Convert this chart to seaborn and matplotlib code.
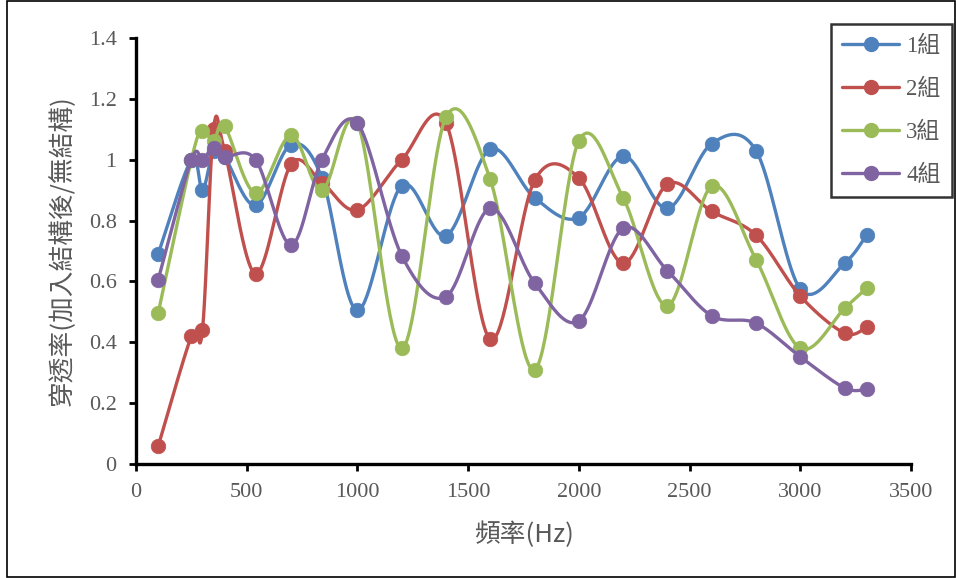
import numpy as np
import pandas as pd
import matplotlib
matplotlib.use("Agg")
import matplotlib.pyplot as plt
import seaborn as sns
from matplotlib.patches import Rectangle
from matplotlib.lines import Line2D
from matplotlib.ticker import FuncFormatter

# ---- data ----
freq = [100, 250, 300, 350, 400, 540, 700, 840, 1000, 1200, 1400, 1600, 1800,
        2000, 2200, 2400, 2600, 2800, 3000, 3200, 3300]
g1 = [0.69, 1.00, 0.90, 1.03, 1.01, 0.85, 1.05, 0.94, 0.505, 0.915, 0.75, 1.035,
      0.875, 0.81, 1.012, 0.84, 1.053, 1.03, 0.575, 0.66, 0.753]
g2 = [0.058, 0.42, 0.44, 1.10, 1.03, 0.625, 0.985, 0.925, 0.835, 1.00, 1.12, 0.41,
      0.932, 0.94, 0.66, 0.92, 0.83, 0.752, 0.552, 0.43, 0.45]
g3 = [0.495, 1.00, 1.095, 1.06, 1.11, 0.89, 1.08, 0.90, 1.12, 0.38, 1.14, 0.935,
      0.31, 1.062, 0.875, 0.52, 0.913, 0.672, 0.38, 0.512, 0.578]
g4 = [0.605, 1.00, 1.00, 1.04, 1.01, 1.00, 0.72, 1.00, 1.12, 0.685, 0.55, 0.84,
      0.595, 0.47, 0.775, 0.635, 0.487, 0.463, 0.352, 0.25, 0.246]
series_names = ["1組", "2組", "3組", "4組"]
series_vals = [g1, g2, g3, g4]
colors = ["#4F81BD", "#C0504D", "#9BBB59", "#8064A2"]
xticks = [0, 500, 1000, 1500, 2000, 2500, 3000, 3500]
yticks = [0, 0.2, 0.4, 0.6, 0.8, 1.0, 1.2, 1.4]
xlabel = "頻率(Hz)"
ylabel = "穿透率(加入結構後/無結構)"

sns.set_style("ticks")
plt.rcParams["font.family"] = ["Liberation Serif", "Noto Sans CJK TC", "DejaVu Sans"]

W, H = 956, 578
fig = plt.figure(figsize=(W / 100, H / 100), dpi=100)
ax = fig.add_axes([136 / W, 1 - 464 / H, 775 / W, 426 / H])
XMAX, YMAX = 3500, 1.4
ax.set_xlim(0, XMAX)
ax.set_ylim(0, YMAX)

# Excel-like smoothed curve (Catmull-Rom Bezier in screen space)
sx, sy = 775 / XMAX, 426 / YMAX


def smooth(xs, ys, n=40):
    P = np.column_stack([np.asarray(xs) * sx, np.asarray(ys) * sy])
    Pe = np.vstack([P[0], P, P[-1]])
    out = []
    t = np.linspace(0, 1, n)[:, None]
    for i in range(len(P) - 1):
        p0, p1, p2, p3 = Pe[i], Pe[i + 1], Pe[i + 2], Pe[i + 3]
        c1 = p1 + (p2 - p0) / 6
        c2 = p2 - (p3 - p1) / 6
        seg = ((1 - t) ** 3) * p1 + 3 * ((1 - t) ** 2) * t * c1 + 3 * (1 - t) * t ** 2 * c2 + t ** 3 * p2
        out.append(seg if i == 0 else seg[1:])
    c = np.vstack(out)
    return c[:, 0] / sx, c[:, 1] / sy


handles = []
for k, (name, vals, col) in enumerate(zip(series_names, series_vals, colors)):
    cx, cy = smooth(freq, vals)
    ax.plot(cx, cy, color=col, lw=2.4, solid_capstyle="round", zorder=2 + k, clip_on=False)
    df = pd.DataFrame({"x": freq, "y": vals})
    sns.scatterplot(data=df, x="x", y="y", ax=ax, color=col, s=110, edgecolor=col,
                    linewidth=0.5, zorder=2.5 + k, clip_on=False, legend=False)
    handles.append(Line2D([0], [0], color=col, lw=2.4, marker="o", markersize=10,
                          markeredgecolor=col))

for s in ["top", "right"]:
    ax.spines[s].set_visible(False)
for s in ["left", "bottom"]:
    ax.spines[s].set_color("black")
    ax.spines[s].set_linewidth(2.4)
ax.set_xticks(xticks)
ax.set_yticks(yticks)
ax.yaxis.set_major_formatter(FuncFormatter(lambda v, p: f"{v:g}"))
ax.tick_params(axis="both", direction="out", length=5, width=2, color="black",
               labelsize=16, labelcolor="#595959")
ax.tick_params(axis="x", pad=9)
ax.tick_params(axis="y", pad=9)
ax.set_xlabel(xlabel, fontsize=18.5, color="#595959", labelpad=14,
              family=["Noto Sans CJK TC", "DejaVu Sans"])
ax.set_ylabel(ylabel, fontsize=18.5, color="#595959", labelpad=9,
              family=["Noto Sans CJK TC", "DejaVu Sans"])
ax.set_facecolor("white")

leg = fig.legend(handles, series_names, loc="upper right",
                 bbox_to_anchor=(952 / W, 1 - 24 / H), frameon=True, fancybox=False,
                 edgecolor="black", handlelength=2.5, labelspacing=0.95,
                 borderpad=0.5, handletextpad=0.3, borderaxespad=0,
                 prop={"family": ["Liberation Serif", "Noto Sans CJK TC"], "size": 16.5})
leg.get_frame().set_linewidth(1.8)
for t in leg.get_texts():
    t.set_color("#595959")

fig.patches.append(Rectangle((7 / W, 1 / H), (W - 8) / W, (H - 2) / H, transform=fig.transFigure,
                             fill=False, edgecolor="black", lw=1.2))

fig.savefig("out.png", dpi=100, facecolor="white")
